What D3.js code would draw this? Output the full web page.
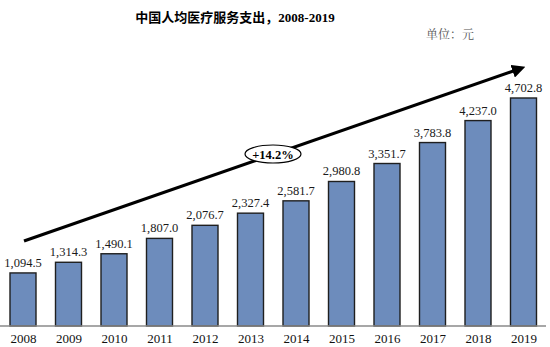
<!DOCTYPE html>
<html>
<head>
<meta charset="utf-8">
<script src="https://cdn.jsdelivr.net/npm/d3@7/dist/d3.min.js"></script>
<style>
  html, body { margin: 0; padding: 0; background: #fff; }
  svg { display: block; }
</style>
</head>
<body>
<svg id="chart" width="550" height="347"></svg>
<script>
// Per-capita medical service spending in China (yuan)
const years = ["2008", "2009", "2010", "2011", "2012", "2013", "2014", "2015", "2016", "2017", "2018", "2019"];
const values = [1094.5, 1314.3, 1490.1, 1807.0, 2076.7, 2327.4, 2581.7, 2980.8, 3351.7, 3783.8, 4237.0, 4702.8];
const growthLabel = "+14.2%";
const titleText = "中国人均医疗服务支出，2008-2019";
const unitText = "单位：元";

const svg = d3.select("#chart");
const serif = "'Liberation Serif', 'Times New Roman', serif";
const cjkSans = "'Noto Sans CJK SC', sans-serif";

const x = d3.scalePoint().domain(years).range([23, 523.5]);
const barW = 26;
const y = d3.scaleLinear().domain([0, 4702.8]).range([326, 98]);

// Bars
svg.append("g").selectAll("rect")
  .data(years)
  .join("rect")
  .attr("x", (d) => x(d) - barW / 2)
  .attr("y", (d, i) => y(values[i]))
  .attr("width", barW)
  .attr("height", (d, i) => y(0) - y(values[i]))
  .attr("fill", "#6d8cbc")
  .attr("stroke", "#1f1f1f")
  .attr("stroke-width", 1.4);

// Value labels
svg.append("g").selectAll("text")
  .data(years)
  .join("text")
  .attr("x", (d) => x(d))
  .attr("y", (d, i) => y(values[i]) - 6)
  .attr("text-anchor", "middle")
  .attr("font-family", serif)
  .attr("font-size", 12.5)
  .attr("fill", "#1a1a1a")
  .text((d, i) => d3.format(",.1f")(values[i]));

// Baseline axis
const axis = d3.axisBottom(x).tickSize(0).tickPadding(8);
const gx = svg.append("g").attr("transform", `translate(0,${y(0)})`).call(axis);
gx.select(".domain").attr("d", "M0,0H546").attr("stroke", "#8a8a8a").attr("stroke-width", 1.6);
gx.selectAll("text")
  .attr("font-family", serif)
  .attr("font-size", 13)
  .attr("fill", "#111");

// Title
svg.append("text")
  .attr("x", 235)
  .attr("y", 22)
  .attr("text-anchor", "middle")
  .attr("font-size", 13)
  .attr("font-weight", "bold")
  .attr("fill", "#000")
  .call((t) => {
    t.append("tspan").attr("font-family", cjkSans).text(titleText.split("，")[0] + "，");
    t.append("tspan").attr("font-family", serif).text(titleText.split("，")[1]);
  });

// Unit note
svg.append("text")
  .attr("x", 474)
  .attr("y", 39)
  .attr("text-anchor", "end")
  .attr("font-family", "'Noto Serif CJK SC', 'Noto Sans CJK SC', serif")
  .attr("font-size", 12)
  .attr("fill", "#555")
  .text(unitText);

// Growth trend arrow
const defs = svg.append("defs");
defs.append("marker")
  .attr("id", "head")
  .attr("viewBox", "0 0 10 10")
  .attr("refX", 5)
  .attr("refY", 5)
  .attr("markerWidth", 4.2)
  .attr("markerHeight", 4.2)
  .attr("orient", "auto")
  .append("path")
  .attr("d", "M0,0L10,5L0,10Z")
  .attr("fill", "#000");

const a0 = [24, 241], a1 = [519, 69];
svg.append("line")
  .attr("x1", a0[0]).attr("y1", a0[1])
  .attr("x2", a1[0]).attr("y2", a1[1])
  .attr("stroke", "#000")
  .attr("stroke-width", 3.2)
  .attr("marker-end", "url(#head)");

// CAGR badge
const bx = 273, by = 154;
svg.append("ellipse")
  .attr("cx", bx).attr("cy", by)
  .attr("rx", 28).attr("ry", 9)
  .attr("fill", "#fff")
  .attr("stroke", "#000")
  .attr("stroke-width", 1.2);
svg.append("text")
  .attr("x", bx).attr("y", by + 4.5)
  .attr("text-anchor", "middle")
  .attr("font-family", serif)
  .attr("font-weight", "bold")
  .attr("font-size", 12.5)
  .attr("fill", "#000")
  .text(growthLabel);
</script>
</body>
</html>
